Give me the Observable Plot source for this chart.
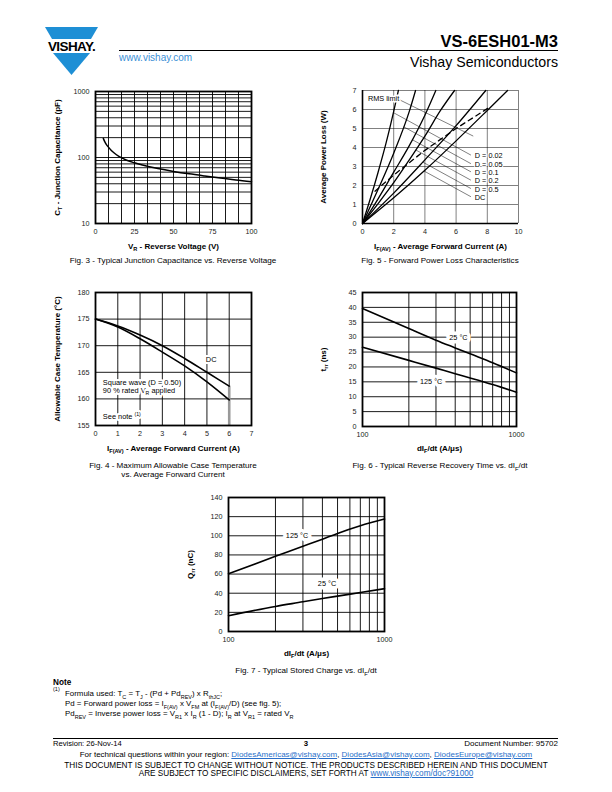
<!DOCTYPE html>
<html><head><meta charset="utf-8">
<script src="https://cdn.jsdelivr.net/npm/d3@7"></script>
<script src="https://cdn.jsdelivr.net/npm/@observablehq/plot@0.6"></script>
<style>
html,body{margin:0;padding:0;background:#fff}
body{width:612px;height:792px;position:relative;overflow:hidden;font-family:"Liberation Sans",Arial,Helvetica,sans-serif;color:#000}
.t{position:absolute;white-space:nowrap;line-height:1}
.chart{position:absolute}
.chart svg{overflow:visible}
a{color:#2a6fc9;text-decoration:underline}
sub,sup{font-size:70%;line-height:0}
</style></head><body>
<script>
// ---------- DATA ----------
// Fig. 3 - junction capacitance
const fig3V = [5, 6, 7, 8, 10, 12, 15, 20, 25, 30, 40, 50, 60, 70, 80, 90, 100];
const fig3C = [195, 172, 157, 146, 129, 117, 104, 91, 83, 77, 68, 61.5, 56.5, 52.5, 49, 45.5, 43];
const fig3XTicks = [0, 25, 50, 75, 100];
const fig3YTicks = [10, 100, 1000];

// Fig. 5 - forward power loss (A, W)
const fig5Series = ["D = 0.02", "D = 0.05", "D = 0.1", "D = 0.2", "D = 0.5", "DC"];
const fig5I = [
  [0, 0.5, 1.0, 1.5, 2.0, 2.3],
  [0, 1.0, 2.0, 3.0, 3.4],
  [0, 1.0, 2.0, 3.0, 4.0, 4.7],
  [0, 1.0, 2.0, 3.0, 4.0, 5.0, 5.9],
  [0, 2.0, 4.0, 6.0, 7.9],
  [0, 2.0, 4.0, 6.0, 8.0, 9.3]
];
const fig5P = [
  [0, 1.3, 2.7, 4.2, 5.9, 7.0],
  [0, 1.8, 3.7, 5.9, 7.0],
  [0, 1.3, 2.7, 4.1, 5.7, 7.0],
  [0, 1.05, 2.15, 3.35, 4.6, 5.95, 7.0],
  [0, 1.6, 3.35, 5.15, 7.0],
  [0, 1.35, 2.8, 4.35, 5.95, 7.0]
];
const fig5RmsI = [0.8, 2, 4, 6, 8.2];
const fig5RmsP = [1.7, 2.55, 3.85, 5.0, 6.15];
const fig5LabelW = [3.55, 3.1, 2.67, 2.23, 1.79, 1.36];
const fig5XTicks = [0, 2, 4, 6, 8, 10];
const fig5YTicks = [0, 1, 2, 3, 4, 5, 6, 7];

// Fig. 4 - allowable case temperature
const fig4I = [0, 1, 2, 3, 4, 5, 6];
const fig4DC = [175, 173.7, 172.0, 170.0, 167.6, 165.0, 162.4];
const fig4SQ = [175, 173.5, 171.3, 168.8, 166.2, 163.2, 159.8];
const fig4XTicks = [0, 1, 2, 3, 4, 5, 6, 7];
const fig4YTicks = [155, 160, 165, 170, 175, 180];

// Fig. 6 - reverse recovery time
const fig6X = [100, 200, 300, 400, 500, 700, 1000];
const fig6T25 = [39.6, 32.9, 29.0, 26.4, 24.4, 21.4, 18.0];
const fig6T125 = [26.6, 22.2, 19.6, 17.7, 16.3, 14.1, 11.5];
const fig6YTicks = [0, 5, 10, 15, 20, 25, 30, 35, 40, 45];

// Fig. 7 - stored charge
const fig7X = [100, 200, 300, 400, 500, 700, 1000];
const fig7Q125 = [60.4, 78.5, 89, 96.5, 102.5, 110.5, 117.5];
const fig7Q25 = [16.5, 26.2, 31, 34.5, 37, 40.7, 44.7];
const fig7YTicks = [0, 20, 40, 60, 80, 100, 120, 140];

const logTicks = [100, 1000];
const logGrid = [100, 200, 300, 400, 500, 600, 700, 800, 900, 1000];

// ---------- HELPERS ----------
const FONT = '"Liberation Sans", Arial, Helvetica, sans-serif';
const body = document.body;
function txt(html, x, y, o = {}) {
  const d = document.createElement("div");
  d.className = "t";
  d.innerHTML = html;
  const size = o.size || 7.5;
  d.style.fontSize = size + "px";
  if (o.weight) d.style.fontWeight = o.weight;
  if (o.color) d.style.color = o.color;
  d.style.top = (y - size * 0.5) + "px";
  d.style.left = x + "px";
  const a = o.anchor || "start";
  if (a === "middle") d.style.transform = "translateX(-50%)";
  if (a === "end") d.style.transform = "translateX(-100%)";
  body.appendChild(d);
  return d;
}
function rich(svg) {
  const NS = "http://www.w3.org/2000/svg";
  svg.querySelectorAll("text").forEach(t => {
    const s = t.textContent;
    if (!/[_^]\{/.test(s) || t.querySelector("tspan")) return;
    const parts = s.split(/([_^]\{[^}]*\})/);
    t.textContent = "";
    let shift = 0;
    for (const p of parts) {
      if (!p) continue;
      const ts = document.createElementNS(NS, "tspan");
      const m = p.match(/^([_^])\{([^}]*)\}$/);
      if (m) {
        const d = m[1] === "_" ? 1.8 : -2.6;
        ts.setAttribute("dy", d - shift);
        shift = d;
        ts.style.fontSize = "70%";
        ts.textContent = m[2];
      } else {
        if (shift) ts.setAttribute("dy", -shift);
        shift = 0;
        ts.textContent = p;
      }
      t.appendChild(ts);
    }
  });
}
function place(svg, left, top) {
  const d = document.createElement("div");
  d.className = "chart";
  d.style.left = left + "px";
  d.style.top = top + "px";
  d.appendChild(svg);
  body.appendChild(d);
  rich(svg);
}
const baseStyle = {fontFamily: FONT, fontSize: "7.2px", color: "#222", background: "transparent", overflow: "visible"};
const fmt = d => String(d);
function axisLabels(xl, yl, dy, dx) {
  return [
    Plot.text([xl], {frameAnchor: "bottom", dy, text: d => d, textAnchor: "middle", lineAnchor: "middle", fontWeight: "bold", fontSize: 8, fill: "#000"}),
    Plot.text([yl], {frameAnchor: "left", dx, rotate: -90, text: d => d, textAnchor: "middle", lineAnchor: "middle", fontWeight: "bold", fontSize: 8, fill: "#000"})
  ];
}
const zip = (xs, ys) => xs.map((x, i) => ({x, y: ys[i]}));

// ---------- HEADER ----------
const logo = document.createElementNS("http://www.w3.org/2000/svg", "svg");
logo.setAttribute("width", 70); logo.setAttribute("height", 60);
logo.style.position = "absolute"; logo.style.left = "39px"; logo.style.top = "24px";
logo.innerHTML = `
<polygon points="6,3 59,3 52,15 13,15" fill="#1e8fd5"/>
<polygon points="14,29 51,29 32.5,51" fill="#1e8fd5"/>
<text x="32.5" y="26.5" text-anchor="middle" font-family='Liberation Sans, Arial' font-weight="bold" font-size="13.5" letter-spacing="-0.6" fill="#000">VISHAY.</text>`;
body.appendChild(logo);
txt("VS-6ESH01-M3", 558, 41, {size: 16.5, weight: "bold", anchor: "end"});
const rule = document.createElement("div");
rule.style.cssText = "position:absolute;left:119px;top:50px;width:439px;height:1px;background:#000";
body.appendChild(rule);
txt("www.vishay.com", 119, 58, {size: 10, color: "#3b8fd6"});
txt("Vishay Semiconductors", 558, 62, {size: 14.2, anchor: "end"});

// ---------- FIG 3 ----------
{
  const grid = d3.range(0, 12.5).map(i => i * 100 / 12);
  const ygrid = [10,20,30,40,50,60,70,80,90,100,200,300,400,500,600,700,800,900,1000];
  const svg = Plot.plot({
    width: 245, height: 170, marginLeft: 75, marginRight: 14, marginTop: 9, marginBottom: 29,
    style: baseStyle,
    x: {domain: [0, 100], ticks: fig3XTicks, tickSize: 0, tickPadding: 5, label: null, tickFormat: fmt},
    y: {type: "log", domain: [10, 1000], ticks: fig3YTicks, tickSize: 0, tickPadding: 6, label: null, tickFormat: fmt},
    marks: [
      Plot.ruleX(grid, {stroke: "#000", strokeWidth: 0.9}),
      Plot.ruleY(ygrid, {stroke: "#000", strokeWidth: 0.9}),
      Plot.line(zip(fig3V, fig3C), {x: "x", y: "y", curve: "monotone-x", stroke: "#000", strokeWidth: 1.5}),
      Plot.frame({stroke: "#000", strokeWidth: 1.8}),
      ...axisLabels("V_{R} - Reverse Voltage (V)", "C_{T} - Junction Capacitance (pF)", 23, -38)
    ]
  });
  place(svg, 20, 82);
  txt("Fig. 3 - Typical Junction Capacitance vs. Reverse Voltage", 173, 261, {size: 8.1, anchor: "middle"});
}

// ---------- FIG 5 ----------
{
  const curves = fig5Series.flatMap((s, k) => fig5I[k].map((x, i) => ({s, x, y: fig5P[k][i]})));
  const labels = fig5Series.map((s, k) => ({s, x: 7.2, y: fig5LabelW[k]}));
  // leader lines: from label towards upper-left until they meet their curve
  const leaders = fig5Series.map((s, k) => {
    const xs = fig5I[k], ys = fig5P[k];
    const x0 = 6.95, y0 = fig5LabelW[k] + 0.05, slope = -0.45;
    const f = x => y0 + slope * (x - x0);
    let hit = null;
    for (let i = 1; i < xs.length && !hit; i++) {
      const g0 = ys[i-1] - f(xs[i-1]), g1 = ys[i] - f(xs[i]);
      if (g0 <= 0 && g1 > 0) { const t = -g0 / (g1 - g0); const xx = xs[i-1] + t * (xs[i] - xs[i-1]); hit = {x: xx, y: f(xx)}; }
    }
    return {x1: x0, y1: y0, x2: hit ? hit.x : x0, y2: hit ? hit.y : y0};
  });
  leaders.push({x1: 2.35, y1: 6.52, x2: 7.1, y2: 4.6});
  const svg = Plot.plot({
    width: 245, height: 170, marginLeft: 72, marginRight: 17, marginTop: 8, marginBottom: 29,
    style: baseStyle,
    x: {domain: [0, 10], ticks: fig5XTicks, tickSize: 0, tickPadding: 5, label: null, tickFormat: fmt},
    y: {domain: [0, 7], ticks: fig5YTicks, tickSize: 0, tickPadding: 6, label: null, tickFormat: fmt},
    marks: [
      Plot.ruleX(fig5XTicks, {stroke: "#000", strokeWidth: 0.5}),
      Plot.ruleY(fig5YTicks, {stroke: "#000", strokeWidth: 0.5}),
      Plot.link(leaders, {x1: "x1", y1: "y1", x2: "x2", y2: "y2", stroke: "#000", strokeWidth: 0.5}),
      Plot.line(curves, {x: "x", y: "y", z: "s", curve: "monotone-x", stroke: "#000", strokeWidth: 1.3}),
      Plot.line(zip(fig5RmsI, fig5RmsP), {x: "x", y: "y", stroke: "#000", strokeWidth: 1.3, strokeDasharray: "5,4"}),
      Plot.text(labels, {x: "x", y: "y", text: "s", textAnchor: "start", fill: "#000", fontSize: 7.3, stroke: "#fff", strokeWidth: 2}),
      Plot.text(["RMS limit"], {x: 0.35, y: 6.55, text: d => d, textAnchor: "start", fill: "#000", fontSize: 7.3, stroke: "#fff", strokeWidth: 3}),
      Plot.ruleX([0], {stroke: "#000", strokeWidth: 1.6}),
      Plot.ruleY([0], {stroke: "#000", strokeWidth: 1.6}),
      ...axisLabels("I_{F(AV)} - Average Forward Current (A)", "Average Power Loss (W)", 23, -39)
    ]
  });
  place(svg, 290, 82);
  txt("Fig. 5 - Forward Power Loss Characteristics", 440, 261, {size: 8.1, anchor: "middle"});
}

// ---------- FIG 4 ----------
{
  const svg = Plot.plot({
    width: 245, height: 170, marginLeft: 75, marginRight: 14, marginTop: 9, marginBottom: 28,
    style: baseStyle,
    x: {domain: [0, 7], ticks: fig4XTicks, tickSize: 0, tickPadding: 5, label: null, tickFormat: fmt},
    y: {domain: [155, 180], ticks: fig4YTicks, tickSize: 0, tickPadding: 6, label: null, tickFormat: fmt},
    marks: [
      Plot.ruleX(fig4XTicks, {stroke: "#000", strokeWidth: 0.9}),
      Plot.ruleY(fig4YTicks, {stroke: "#000", strokeWidth: 0.9}),
      Plot.text(["Square wave (D = 0.50)", "90 % rated V_{R} applied"], {x: 0.33, y: (d, i) => [163.1, 161.6][i], text: d => d, textAnchor: "start", fill: "#000", fontSize: 7.4, stroke: "#fff", strokeWidth: 4}),
      Plot.text(["See note ^{(1)}"], {x: 0.33, y: 156.7, text: d => d, textAnchor: "start", fill: "#000", fontSize: 7.4, stroke: "#fff", strokeWidth: 4}),
      Plot.text(["DC"], {x: 4.95, y: 167.3, text: d => d, textAnchor: "start", fill: "#000", fontSize: 7.4, stroke: "#fff", strokeWidth: 4}),
      Plot.ruleX([6], {y1: 155, y2: fig4DC[6], stroke: "#999", strokeWidth: 2.6}),
      Plot.line(zip(fig4I, fig4DC), {x: "x", y: "y", curve: "monotone-x", stroke: "#000", strokeWidth: 1.6}),
      Plot.line(zip(fig4I, fig4SQ), {x: "x", y: "y", curve: "monotone-x", stroke: "#000", strokeWidth: 1.6}),
      Plot.frame({stroke: "#000", strokeWidth: 1.8}),
      ...axisLabels("I_{F(AV)} - Average Forward Current (A)", "Allowable Case Temperature (°C)", 23, -38)
    ]
  });
  place(svg, 20, 283);
  txt("Fig. 4 - Maximum Allowable Case Temperature", 173, 466, {size: 8.1, anchor: "middle"});
  txt("vs. Average Forward Current", 173, 475, {size: 8.1, anchor: "middle"});
}

// ---------- FIG 6 ----------
{
  const svg = Plot.plot({
    width: 245, height: 170, marginLeft: 72, marginRight: 19, marginTop: 9, marginBottom: 27,
    style: baseStyle,
    x: {type: "log", domain: [100, 1000], ticks: logTicks, tickSize: 0, tickPadding: 5, label: null, tickFormat: fmt},
    y: {domain: [0, 45], ticks: fig6YTicks, tickSize: 0, tickPadding: 6, label: null, tickFormat: fmt},
    marks: [
      Plot.ruleX(logGrid, {stroke: "#000", strokeWidth: 0.9}),
      Plot.ruleY(fig6YTicks, {stroke: "#000", strokeWidth: 0.9}),
      Plot.line(zip(fig6X, fig6T25), {x: "x", y: "y", curve: "monotone-x", stroke: "#000", strokeWidth: 1.6}),
      Plot.line(zip(fig6X, fig6T125), {x: "x", y: "y", curve: "monotone-x", stroke: "#000", strokeWidth: 1.6}),
      Plot.text(["25 °C"], {x: 420, y: 30, text: d => d, fill: "#000", fontSize: 7.3, stroke: "#fff", strokeWidth: 7}),
      Plot.text(["125 °C"], {x: 279, y: 15, text: d => d, fill: "#000", fontSize: 7.3, stroke: "#fff", strokeWidth: 7}),
      Plot.frame({stroke: "#000", strokeWidth: 1.8}),
      ...axisLabels("dI_{F}/dt (A/μs)", "t_{rr} (ns)", 22, -39)
    ]
  });
  place(svg, 290, 283);
  txt("Fig. 6 - Typical Reverse Recovery Time vs. dI<sub>F</sub>/dt", 440, 466, {size: 8.1, anchor: "middle"});
}

// ---------- FIG 7 ----------
{
  const svg = Plot.plot({
    width: 250, height: 175, marginLeft: 78, marginRight: 16, marginTop: 9, marginBottom: 32,
    style: baseStyle,
    x: {type: "log", domain: [100, 1000], ticks: logTicks, tickSize: 0, tickPadding: 5, label: null, tickFormat: fmt},
    y: {domain: [0, 140], ticks: fig7YTicks, tickSize: 0, tickPadding: 6, label: null, tickFormat: fmt},
    marks: [
      Plot.ruleX(logGrid, {stroke: "#000", strokeWidth: 0.9}),
      Plot.ruleY(fig7YTicks, {stroke: "#000", strokeWidth: 0.9}),
      Plot.line(zip(fig7X, fig7Q125), {x: "x", y: "y", curve: "monotone-x", stroke: "#000", strokeWidth: 1.6}),
      Plot.line(zip(fig7X, fig7Q25), {x: "x", y: "y", curve: "monotone-x", stroke: "#000", strokeWidth: 1.6}),
      Plot.text(["125 °C"], {x: 275, y: 100, text: d => d, fill: "#000", fontSize: 7.3, stroke: "#fff", strokeWidth: 7}),
      Plot.text(["25 °C"], {x: 428, y: 50, text: d => d, fill: "#000", fontSize: 7.3, stroke: "#fff", strokeWidth: 7}),
      Plot.frame({stroke: "#000", strokeWidth: 1.8}),
      ...axisLabels("dI_{F}/dt (A/μs)", "Q_{rr} (nC)", 22, -38)
    ]
  });
  place(svg, 150, 488);
  txt("Fig. 7 - Typical Stored Charge vs. dI<sub>F</sub>/dt", 306, 671, {size: 8.1, anchor: "middle"});
}

// ---------- NOTE ----------
txt("Note", 53, 683, {size: 8.2, weight: "bold"});
txt("<sup>(1)</sup>", 53, 693, {size: 7.9});
txt("Formula used: T<sub>C</sub> = T<sub>J</sub> - (Pd + Pd<sub>REV</sub>) x R<sub>thJC</sub>;", 65, 694, {size: 7.9});
txt("Pd = Forward power loss = I<sub>F(AV)</sub> x V<sub>FM</sub> at (I<sub>F(AV)</sub>/D) (see fig. 5);", 65, 704, {size: 7.9});
txt("Pd<sub>REV</sub> = Inverse power loss = V<sub>R1</sub> x I<sub>R</sub> (1 - D); I<sub>R</sub> at V<sub>R1</sub> = rated V<sub>R</sub>", 65, 714, {size: 7.9});

// ---------- FOOTER ----------
const rule2 = document.createElement("div");
rule2.style.cssText = "position:absolute;left:53px;top:738px;width:505px;height:1px;background:#000";
body.appendChild(rule2);
txt("Revision: 26-Nov-14", 53, 744, {size: 7.6});
txt("3", 306, 744, {size: 7.8, weight: "bold", anchor: "middle"});
txt("Document Number: 95702", 558, 744, {size: 8, anchor: "end"});
txt('For technical questions within your region: <a>DiodesAmericas@vishay.com</a>, <a>DiodesAsia@vishay.com</a>, <a>DiodesEurope@vishay.com</a>', 306, 755, {size: 8, anchor: "middle"});
txt("THIS DOCUMENT IS SUBJECT TO CHANGE WITHOUT NOTICE. THE PRODUCTS DESCRIBED HEREIN AND THIS DOCUMENT", 306, 766, {size: 8.2, anchor: "middle"});
txt('ARE SUBJECT TO SPECIFIC DISCLAIMERS, SET FORTH AT <a>www.vishay.com/doc?91000</a>', 306, 774, {size: 8.2, anchor: "middle"});
</script>
</body></html>
